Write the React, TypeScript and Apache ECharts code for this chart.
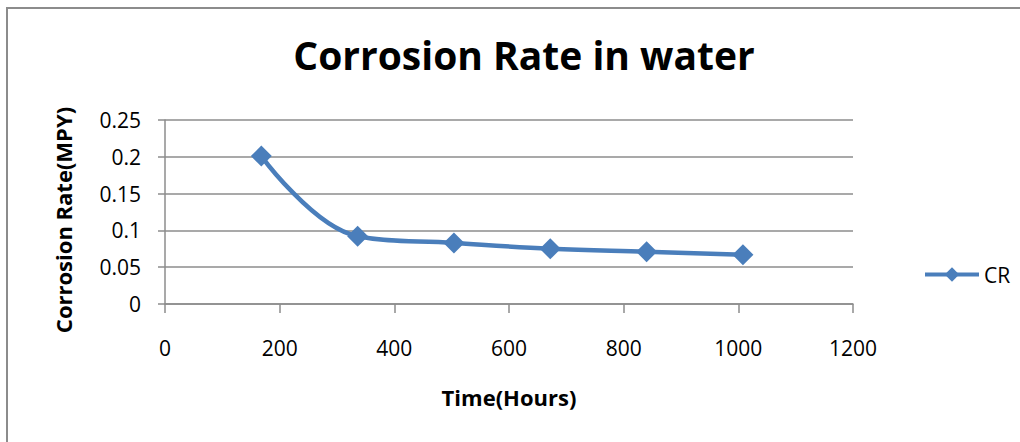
import React, { useEffect, useRef } from "react";
import * as echarts from "echarts";

const hours = [168, 336, 504, 672, 840, 1008];
const corrosionRate = [0.201, 0.092, 0.083, 0.075, 0.071, 0.067];
const seriesName = "CR";
const titleText = "Corrosion Rate in water";
const xTitle = "Time(Hours)";
const yTitle = "Corrosion Rate(MPY)";

export default function App() {
  const ref = useRef<HTMLDivElement>(null);
  useEffect(() => {
    if (!ref.current) return;
    const chart = echarts.init(ref.current, null, { renderer: "svg" });
    const font = "Open Sans";
    const color = "#4A7EBB";
    chart.setOption({
      animation: false,
      backgroundColor: "#fff",
      graphic: [
        {
          type: "polyline",
          shape: { points: [[7, 442], [7, 8], [1020, 8]] },
          style: { stroke: "#8c8c8c", lineWidth: 2, fill: "none" },
        },
      ],
      title: {
        text: titleText,
        left: 519,
        top: 30,
        textAlign: "center",
        textStyle: { fontFamily: font, fontWeight: "bold", fontSize: 39, color: "#000" },
      },
      legend: {
        left: 918,
        top: 259,
        itemWidth: 54,
        itemHeight: 18,
        itemGap: 4,
        data: [{ name: seriesName, lineStyle: { width: 4 } }],
        textStyle: { fontFamily: font, fontSize: 21, color: "#000" },
      },
      grid: { left: 165, right: 167, top: 120, bottom: 138, containLabel: false },
      xAxis: {
        type: "value",
        min: 0,
        max: 1200,
        interval: 200,
        name: xTitle,
        nameLocation: "middle",
        nameGap: 82,
        nameTextStyle: { fontFamily: font, fontWeight: "bold", fontSize: 22, color: "#000" },
        axisLine: { show: true, lineStyle: { color: "#8c8c8c", width: 1.5 } },
        axisTick: { show: true, length: 9, lineStyle: { color: "#8c8c8c", width: 1.5 } },
        axisLabel: {
          fontFamily: font,
          fontSize: 21,
          color: "#000",
          margin: 33,
          formatter: (v: number) => String(v),
        },
        splitLine: { show: false },
      },
      yAxis: {
        type: "value",
        min: 0,
        max: 0.25,
        interval: 0.05,
        name: yTitle,
        nameLocation: "middle",
        nameGap: 91,
        nameTextStyle: {
          fontFamily: font,
          fontWeight: "bold",
          fontSize: 22,
          color: "#000",
          padding: [0, 16, 0, 0],
        },
        axisLine: { show: true, lineStyle: { color: "#8c8c8c", width: 1.5 } },
        axisTick: { show: true, length: 7, lineStyle: { color: "#8c8c8c", width: 1.5 } },
        axisLabel: { fontFamily: font, fontSize: 21, color: "#000", margin: 24 },
        splitLine: { show: true, lineStyle: { color: "#8c8c8c", width: 1.5 } },
      },
      series: [
        {
          name: seriesName,
          type: "line",
          data: hours.map((h, i) => [h, corrosionRate[i]]),
          smooth: 0.4,
          symbol: "diamond",
          symbolSize: 21,
          itemStyle: { color },
          lineStyle: { color, width: 4.5 },
        },
      ],
    });
    return () => chart.dispose();
  }, []);
  return (
    <div
      ref={ref}
      style={{ position: "absolute", left: 0, top: 0, width: 1020, height: 442 }}
    />
  );
}
